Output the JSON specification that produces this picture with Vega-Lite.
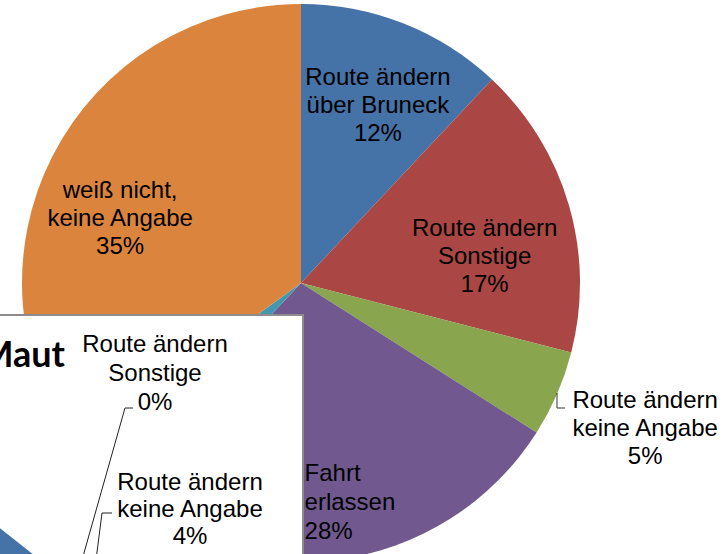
{
  "$schema": "https://vega.github.io/schema/vega-lite/v6.json",
  "width": 602,
  "height": 542,
  "autosize": {"type": "none"},
  "padding": {"left": 0, "top": 12, "right": 125, "bottom": 0},
  "background": "white",
  "config": {"view": {"stroke": null}, "text": {"font": "Liberation Sans"}},
  "datasets": {
    "pie": [
      {"rank": 1, "category": "Route ändern über Bruneck", "label": "Route ändern\nüber Bruneck\n12%", "percent": 12},
      {"rank": 2, "category": "Route ändern Sonstige", "label": "Route ändern\nSonstige\n17%", "percent": 17},
      {"rank": 3, "category": "Route ändern keine Angabe", "label": "Route ändern\nkeine Angabe\n5%", "percent": 5},
      {"rank": 4, "category": "Fahrt erlassen", "label": "Fahrt\nerlassen\n 28%", "percent": 28},
      {"rank": 5, "category": "Sonstiges", "label": "Sonstiges\n3%", "percent": 3},
      {"rank": 6, "category": "weiß nicht, keine Angabe", "label": "weiß nicht,\nkeine Angabe\n35%", "percent": 35}
    ],
    "maut": [
      {"category": "Route ändern Sonstige", "label": "Route ändern\nSonstige\n0%", "percent": 0},
      {"category": "Route ändern keine Angabe", "label": "Route ändern\nkeine Angabe\n4%", "percent": 4}
    ]
  },
  "layer": [
    {
      "data": {"name": "pie"},
      "mark": {"type": "arc", "outerRadius": 279},
      "encoding": {
        "theta": {"field": "percent", "type": "quantitative", "stack": true},
        "order": {"field": "rank", "type": "quantitative"},
        "color": {
          "field": "category", "type": "nominal", "legend": null,
          "scale": {
            "domain": ["Route ändern über Bruneck", "Route ändern Sonstige", "Route ändern keine Angabe", "Fahrt erlassen", "Sonstiges", "weiß nicht, keine Angabe"],
            "range": ["#4572A7", "#AA4643", "#89A54E", "#71588F", "#4198AF", "#DB843D"]
          }
        }
      }
    },
    {
      "data": {"name": "pie"},
      "mark": {"type": "text", "radius": 190, "dx": 7, "dy": -28, "lineBreak": "\n", "fontSize": 24, "lineHeight": 28, "align": "center", "baseline": "middle", "color": "black"},
      "encoding": {
        "theta": {"field": "percent", "type": "quantitative", "stack": true},
        "order": {"field": "rank", "type": "quantitative"},
        "detail": {"field": "category", "type": "nominal"},
        "text": {"condition": {"test": "datum.rank === 1", "field": "label", "type": "nominal"}, "value": ""}
      }
    },
    {
      "data": {"name": "pie"},
      "mark": {"type": "text", "radius": 186, "dx": 5, "dy": -2, "lineBreak": "\n", "fontSize": 24, "lineHeight": 28, "align": "center", "baseline": "middle", "color": "black"},
      "encoding": {
        "theta": {"field": "percent", "type": "quantitative", "stack": true},
        "order": {"field": "rank", "type": "quantitative"},
        "detail": {"field": "category", "type": "nominal"},
        "text": {"condition": {"test": "datum.rank === 2", "field": "label", "type": "nominal"}, "value": ""}
      }
    },
    {
      "data": {"name": "pie"},
      "mark": {"type": "text", "radius": 375, "dx": 0, "dy": -31, "lineBreak": "\n", "fontSize": 24, "lineHeight": 28, "align": "center", "baseline": "middle", "color": "black"},
      "encoding": {
        "theta": {"field": "percent", "type": "quantitative", "stack": true},
        "order": {"field": "rank", "type": "quantitative"},
        "detail": {"field": "category", "type": "nominal"},
        "text": {"condition": {"test": "datum.rank === 3", "field": "label", "type": "nominal"}, "value": ""}
      }
    },
    {
      "data": {"name": "pie"},
      "mark": {"type": "text", "radius": 220, "dx": -24, "dy": -27, "lineBreak": "\n", "fontSize": 24, "lineHeight": 29, "align": "left", "baseline": "middle", "color": "black"},
      "encoding": {
        "theta": {"field": "percent", "type": "quantitative", "stack": true},
        "order": {"field": "rank", "type": "quantitative"},
        "detail": {"field": "category", "type": "nominal"},
        "text": {"condition": {"test": "datum.rank === 4", "field": "label", "type": "nominal"}, "value": ""}
      }
    },
    {
      "data": {"name": "pie"},
      "mark": {"type": "text", "radius": 203, "dx": 0, "dy": 0, "lineBreak": "\n", "fontSize": 24, "lineHeight": 28, "align": "center", "baseline": "middle", "color": "black"},
      "encoding": {
        "theta": {"field": "percent", "type": "quantitative", "stack": true},
        "order": {"field": "rank", "type": "quantitative"},
        "detail": {"field": "category", "type": "nominal"},
        "text": {"condition": {"test": "datum.rank === 6", "field": "label", "type": "nominal"}, "value": ""}
      }
    },
    {
      "data": {"values": [{"part": "leader"}]},
      "mark": {"type": "rule", "color": "#333333", "strokeWidth": 1},
      "encoding": {"x": {"value": 557}, "y": {"value": 381}, "x2": {"value": 557}, "y2": {"value": 396}}
    },
    {
      "data": {"values": [{"part": "leader"}]},
      "mark": {"type": "rule", "color": "#333333", "strokeWidth": 1},
      "encoding": {"x": {"value": 557}, "y": {"value": 396}, "x2": {"value": 565}, "y2": {"value": 396}}
    },
    {
      "data": {"values": [{"panel": "Maut"}]},
      "mark": {"type": "rect", "fill": "white", "stroke": "#8c8c8c", "strokeWidth": 2},
      "encoding": {"x": {"value": -5}, "x2": {"value": 303}, "y": {"value": 303}, "y2": {"value": 560}}
    },
    {
      "data": {"values": [{"category": "Route ändern über Bruneck"}]},
      "mark": {"type": "arc", "x": 110, "y": 603, "theta": 4.01, "theta2": 5.38, "outerRadius": 150, "fill": "#4572A7"},
      "encoding": {}
    },
    {
      "data": {"values": [{"title": "Maut"}]},
      "mark": {"type": "text", "x": 65, "y": 355, "align": "right", "baseline": "alphabetic", "font": "Lato", "fontWeight": "bold", "fontSize": 36, "color": "black"},
      "encoding": {"text": {"field": "title", "type": "nominal"}}
    },
    {
      "data": {"name": "maut"},
      "transform": [{"filter": "datum.percent === 0"}],
      "mark": {"type": "text", "x": 155, "y": 333, "lineBreak": "\n", "fontSize": 24, "lineHeight": 29, "align": "center", "baseline": "middle", "color": "black"},
      "encoding": {"text": {"field": "label", "type": "nominal"}}
    },
    {
      "data": {"name": "maut"},
      "transform": [{"filter": "datum.percent === 4"}],
      "mark": {"type": "text", "x": 190, "y": 471, "lineBreak": "\n", "fontSize": 24, "lineHeight": 27, "align": "center", "baseline": "middle", "color": "black"},
      "encoding": {"text": {"field": "label", "type": "nominal"}}
    },
    {
      "data": {"values": [{"part": "leader"}]},
      "mark": {"type": "rule", "color": "#222222", "strokeWidth": 1},
      "encoding": {"x": {"value": 125}, "y": {"value": 396}, "x2": {"value": 82}, "y2": {"value": 548}}
    },
    {
      "data": {"values": [{"part": "leader"}]},
      "mark": {"type": "rule", "color": "#222222", "strokeWidth": 1},
      "encoding": {"x": {"value": 125}, "y": {"value": 396}, "x2": {"value": 133}, "y2": {"value": 396}}
    },
    {
      "data": {"values": [{"part": "leader"}]},
      "mark": {"type": "rule", "color": "#222222", "strokeWidth": 1},
      "encoding": {"x": {"value": 102}, "y": {"value": 501}, "x2": {"value": 96}, "y2": {"value": 548}}
    },
    {
      "data": {"values": [{"part": "leader"}]},
      "mark": {"type": "rule", "color": "#222222", "strokeWidth": 1},
      "encoding": {"x": {"value": 102}, "y": {"value": 501}, "x2": {"value": 112}, "y2": {"value": 501}}
    }
  ]
}
